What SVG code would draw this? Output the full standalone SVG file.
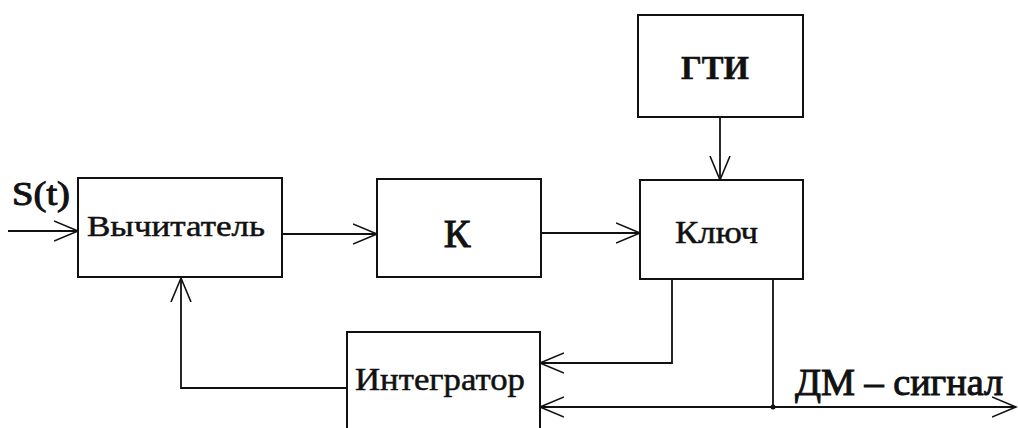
<svg xmlns="http://www.w3.org/2000/svg" width="1018" height="428" viewBox="0 0 1018 428">
  <style>
    .box { fill: #ffffff; stroke: #111111; stroke-width: 2; }
    .wire { fill: none; stroke: #111111; stroke-width: 1.8; }
    .lbl { font-family: "Liberation Serif", "Times New Roman", serif; fill: #111111; stroke: #111111; stroke-width: 0.5; }
    .heavy { stroke-width: 1; }
  </style>
  <defs>
    <marker id="arrow" markerUnits="userSpaceOnUse" markerWidth="30" markerHeight="30" refX="24" refY="12" orient="auto">
      <path d="M0,2 L24,12 L0,22" fill="none" stroke="#111111" stroke-width="1.6"/>
    </marker>
  </defs>
  <rect width="1018" height="428" fill="#ffffff"/>

  <g id="connectors">
    <!-- input S(t) -->
    <line class="wire" x1="8" y1="231" x2="78" y2="231" marker-end="url(#arrow)"/>
    <!-- subtractor to K -->
    <line class="wire" x1="282" y1="234" x2="377" y2="234" marker-end="url(#arrow)"/>
    <!-- K to key -->
    <line class="wire" x1="541" y1="233" x2="640" y2="233" marker-end="url(#arrow)"/>
    <!-- pulse generator to key -->
    <line class="wire" x1="720" y1="117" x2="720" y2="180" marker-end="url(#arrow)"/>
    <!-- key to integrator -->
    <polyline class="wire" points="672,280 672,363 540,363" marker-end="url(#arrow)"/>
    <!-- key output, DM signal -->
    <line class="wire" x1="773" y1="280" x2="773" y2="407"/>
    <line class="wire" x1="773" y1="407" x2="540" y2="407" marker-end="url(#arrow)"/>
    <line class="wire" x1="773" y1="407" x2="1016" y2="407" marker-end="url(#arrow)"/>
    <circle cx="773" cy="407" r="2.5" fill="#111111"/>
    <!-- integrator feedback to subtractor -->
    <polyline class="wire" points="347,388 181,388 181,278" marker-end="url(#arrow)"/>
  </g>

  <g id="subtractor">
    <rect class="box" x="78" y="178" width="204" height="99"/>
    <text class="lbl" x="87" y="236" font-size="30" textLength="178" lengthAdjust="spacingAndGlyphs">Вычитатель</text>
  </g>

  <g id="gain">
    <rect class="box" x="377" y="179" width="164" height="98"/>
    <text class="lbl heavy" x="457" y="247" font-size="40" text-anchor="middle">К</text>
  </g>

  <g id="pulse-generator">
    <rect class="box" x="638" y="15" width="165" height="102"/>
    <text class="lbl" x="715" y="79" font-size="34" font-weight="bold" text-anchor="middle" textLength="68" lengthAdjust="spacingAndGlyphs">ГТИ</text>
  </g>

  <g id="key">
    <rect class="box" x="640" y="180" width="163" height="99"/>
    <text class="lbl" x="675" y="243" font-size="31" stroke-width="0.2" textLength="83" lengthAdjust="spacingAndGlyphs">Ключ</text>
  </g>

  <g id="integrator">
    <rect class="box" x="347" y="332" width="193" height="110"/>
    <text class="lbl" x="355" y="390" font-size="32" textLength="170" lengthAdjust="spacingAndGlyphs">Интегратор</text>
  </g>

  <g id="labels">
    <text class="lbl heavy" x="12" y="205" font-size="34" textLength="58" lengthAdjust="spacingAndGlyphs">S(t)</text>
    <text class="lbl heavy" x="795" y="395" font-size="38" textLength="208" lengthAdjust="spacingAndGlyphs">ДМ – сигнал</text>
  </g>
</svg>
